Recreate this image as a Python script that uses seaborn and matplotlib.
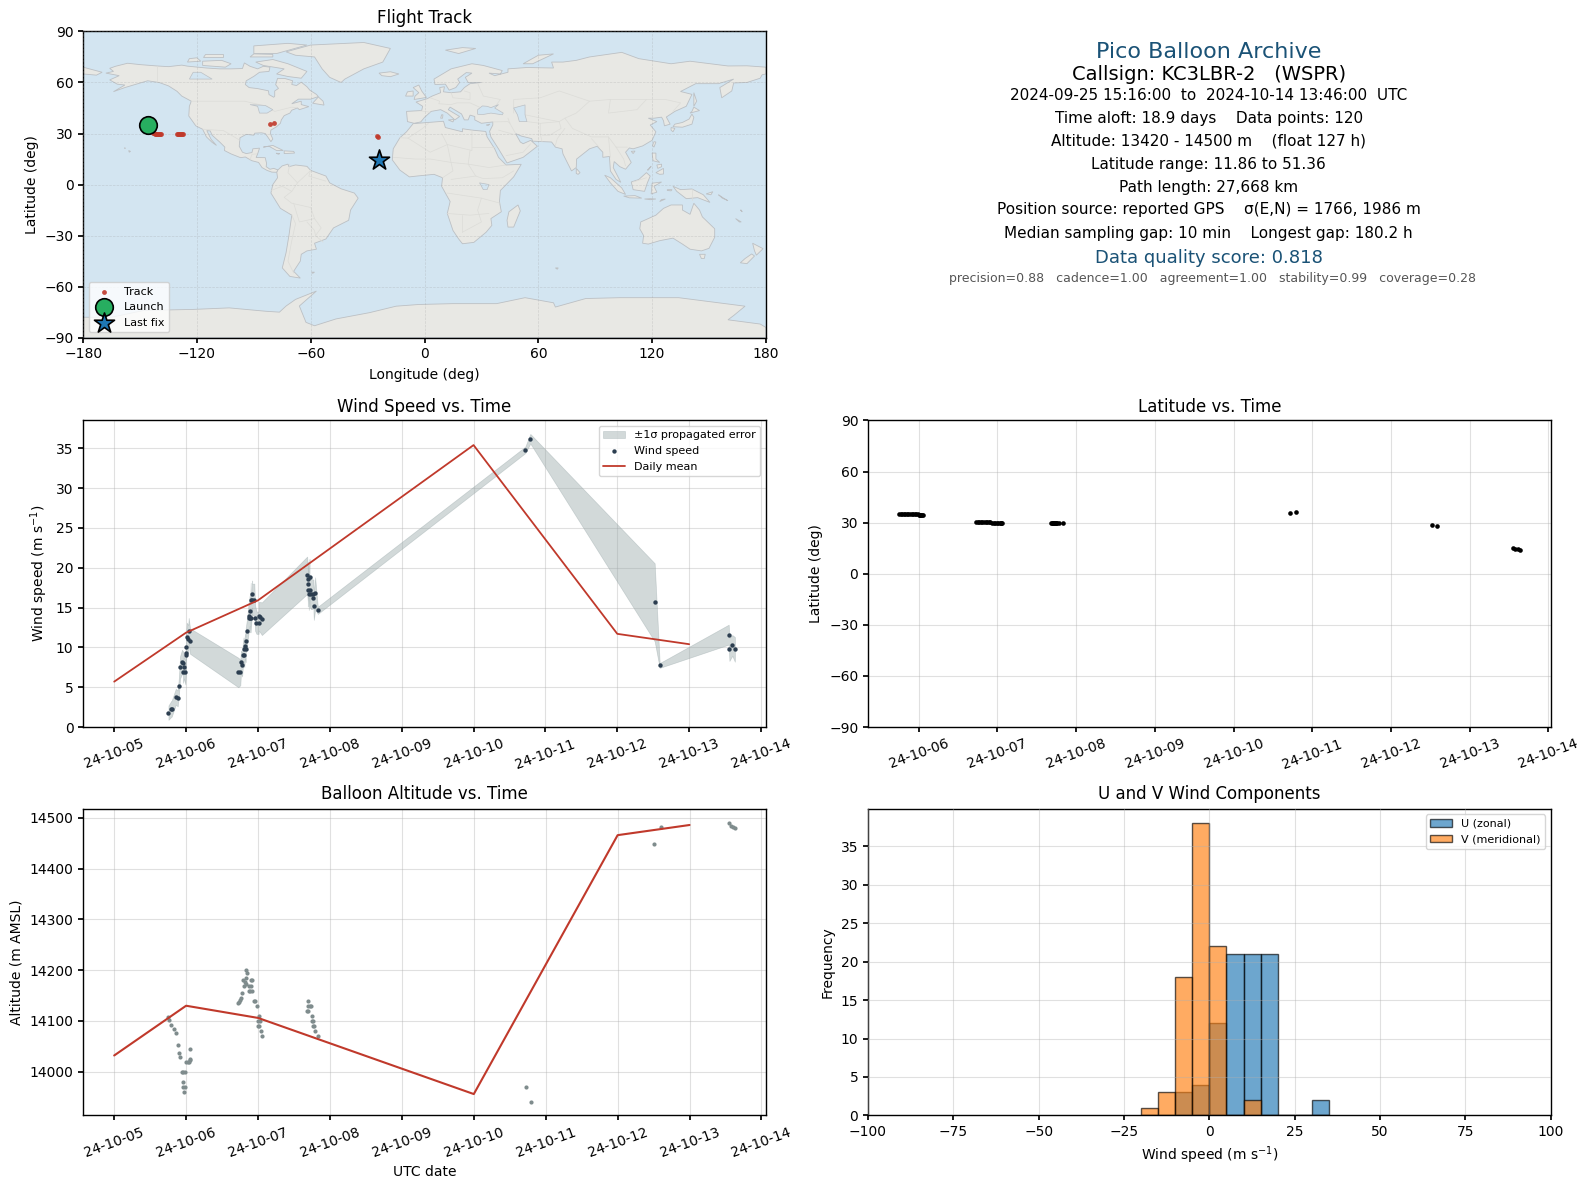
import numpy as np
import pandas as pd
import seaborn as sns
import matplotlib.pyplot as plt
import matplotlib.dates as mdates

# layout was measured on a 1567 px wide view of the original
VIEW_W, VIEW_H = 1567.0, 1172.6

OCEAN = '#d3e5f1'
LAND = '#e8e8e4'
COAST = '#bcc0c4'
BORDER = '#dcdcd8'
RED = '#c0392b'
NAVY = '#2c3e50'
GREY = '#7f8c8d'
BAND = '#95a5a6'
TITLE_BLUE = '#1a5276'

base_date = pd.Timestamp('2024-10-05')

# days after base_date, speed (m/s), sigma (m/s)
wind_days = [0.755, 0.796, 0.80, 0.857, 0.884, 0.90, 0.917, 0.944, 0.958, 0.958, 0.972, 0.99, 1.0, 1.0, 1.0,
             1.01, 1.03, 1.037, 1.055,
             1.727, 1.755, 1.764, 1.78, 1.79, 1.80, 1.81, 1.82, 1.83, 1.83, 1.85, 1.87, 1.875, 1.885, 1.89,
             1.90, 1.90, 1.92, 1.92, 1.95, 1.96, 1.98, 2.01, 2.01, 2.03, 2.055,
             2.685, 2.694, 2.694, 2.70, 2.708, 2.718, 2.718, 2.74, 2.773, 2.773, 2.778, 2.796, 2.833,
             5.72, 5.79, 7.52, 7.59, 8.55, 8.56, 8.60, 8.636]
wind_speed = [1.8, 2.3, 2.3, 3.8, 3.6, 5.1, 7.5, 8.2, 8.0, 6.85, 7.5, 6.85, 9.0, 9.3, 10.0,
              11.3, 11.0, 12.1, 10.8,
              6.85, 6.85, 8.2, 7.85, 9.0, 9.75, 9.0, 10.2, 9.75, 10.8, 12.0, 13.7, 14.0, 14.6, 13.7,
              15.9, 13.7, 16.7, 16.0, 16.0, 13.7, 13.1, 13.1, 13.9, 13.8, 13.6,
              19.05, 18.0, 17.15, 18.55, 16.7, 18.9, 17.15, 16.7, 16.7, 16.15, 15.15, 16.8, 14.65,
              34.8, 36.2, 15.66, 7.73, 11.6, 9.75, 10.25, 9.75]
wind_sigma = [0.9, 1.0, 1.0, 1.0, 1.0, 1.1, 1.4, 1.5, 1.5, 1.3, 1.4, 1.5, 1.7, 1.7, 1.7,
              1.8, 1.8, 1.6, 1.6,
              1.85, 1.6, 1.4, 1.5, 1.5, 1.5, 1.5, 1.6, 1.6, 1.6, 1.7, 1.8, 1.8, 1.9, 1.8,
              2.2, 1.8, 1.7, 2.0, 2.0, 1.6, 1.4, 1.4, 1.8, 1.9, 2.05,
              2.35, 2.2, 2.0, 2.2, 2.0, 2.2, 2.0, 1.9, 1.8, 1.8, 1.7, 2.0, 0.45,
              0.4, 0.6, 4.9, 0.3, 1.25, 1.45, 1.3, 1.55]

mean_days = [0, 1, 2, 5, 7, 8]
mean_wind = [5.7, 11.85, 15.9, 35.4, 11.7, 10.4]
mean_alt = [14032, 14130, 14106, 13956, 14466, 14486]

alt_days = [0.755, 0.763, 0.796, 0.833, 0.861, 0.889, 0.903, 0.917, 0.944, 0.958, 0.958, 0.963, 0.972, 0.986, 0.986,
            1.0, 1.03, 1.04, 1.05, 1.055, 1.06,
            1.722, 1.736, 1.755, 1.764, 1.778, 1.796, 1.80, 1.815, 1.833, 1.833, 1.833, 1.847, 1.875, 1.88, 1.89,
            1.898, 1.903, 1.91, 1.921, 1.94, 1.963, 1.986, 2.0, 2.0, 2.014, 2.02, 2.023, 2.04, 2.055,
            2.68, 2.694, 2.694, 2.70, 2.72, 2.736, 2.75, 2.755, 2.76, 2.76, 2.78, 2.796, 2.833,
            5.72, 5.79, 7.51, 7.60, 8.55, 8.57, 8.60, 8.63]
altitude = [14107, 14102, 14092, 14084, 14076, 14052, 14037, 14029, 14000, 13980, 13970, 14000, 13960, 14000, 13970,
            14019, 14019, 14019, 14023, 14045, 14025,
            14135, 14138, 14141, 14145, 14155, 14180, 14169, 14176, 14172, 14184, 14200, 14194, 14169, 14159, 14159,
            14180, 14169, 14159, 14180, 14139, 14139, 14129, 14100, 14090, 14110, 14090, 14100, 14080, 14070,
            14119, 14139, 14129, 14119, 14129, 14129, 14110, 14100, 14100, 14090, 14090, 14080, 14070,
            13970, 13940, 14449, 14482, 14490, 14485, 14483, 14480]

lat_days = [0.75, 0.77, 0.79, 0.81, 0.83, 0.85, 0.87, 0.89, 0.91, 0.93, 0.95, 0.97, 0.99, 1.0, 1.01, 1.02, 1.03, 1.04, 1.05,
            1.73, 1.75, 1.77, 1.79, 1.81, 1.83, 1.85, 1.87, 1.89, 1.91, 1.93, 1.95, 1.97, 1.99, 2.01, 2.03, 2.04, 2.05, 2.06,
            2.68, 2.69, 2.70, 2.71, 2.72, 2.73, 2.74, 2.75, 2.76, 2.78, 2.833,
            5.72, 5.79, 7.52, 7.59, 8.55, 8.58, 8.61, 8.636]
latitude = [34.9, 34.9, 34.9, 34.9, 34.9, 34.9, 34.9, 34.9, 34.9, 34.9, 34.9, 34.8, 34.8, 34.4, 34.4, 34.3, 34.3, 34.2, 34.2,
            30.1, 30.1, 30.1, 30.1, 30.1, 30.1, 30.1, 30.1, 30.1, 30.1, 30.0, 30.0, 30.0, 30.0, 29.8, 29.7, 29.6, 29.5, 29.5,
            29.5, 29.5, 29.5, 29.5, 29.5, 29.5, 29.5, 29.5, 29.5, 29.5, 29.6,
            35.5, 36.0, 28.6, 27.9, 14.9, 14.6, 14.4, 14.2]

track_lon = [-145.8, -145.0, -143.0, -142.5, -142.0, -141.5, -141.0, -140.5, -140.0, -139.5, -139.0,
             -130.5, -130.0, -129.5, -129.0, -128.5, -128.0, -127.5, -81.4, -79.5, -25.0, -24.7, -24.2, -24.0]
track_lat = [34.8, 34.2, 30.1, 30.1, 30.0, 30.0, 30.0, 29.9, 29.9, 29.8, 29.8,
             29.8, 29.8, 29.8, 29.8, 29.7, 29.7, 29.7, 35.5, 36.0, 28.3, 27.9, 14.5, 14.2]
launch_lon, launch_lat = -145.8, 34.9
last_lon, last_lat = -24.2, 14.2

hist_edges = [-20, -15, -10, -5, 0, 5, 10, 15, 20, 25, 30, 35]
u_counts = [0, 0, 3, 4, 12, 21, 21, 21, 0, 0, 2]
v_counts = [1, 3, 18, 38, 22, 0, 2, 0, 0, 0, 0]

info_lines = [
    ('Pico Balloon Archive', 1192, 51, 16, TITLE_BLUE),
    ('Callsign: KC3LBR-2   (WSPR)', 1192, 73, 14, 'black'),
    ('2024-09-25 15:16:00  to  2024-10-14 13:46:00  UTC', 1192, 94, 11, 'black'),
    ('Time aloft: 18.9 days    Data points: 120', 1192, 117, 11, 'black'),
    ('Altitude: 13420 - 14500 m    (float 127 h)', 1192, 139, 11, 'black'),
    ('Latitude range: 11.86 to 51.36', 1192, 162, 11, 'black'),
    ('Path length: 27,668 km', 1192, 185, 11, 'black'),
    ('Position source: reported GPS    σ(E,N) = 1766, 1986 m', 1192, 207, 11, 'black'),
    ('Median sampling gap: 10 min    Longest gap: 180.2 h', 1192, 230, 11, 'black'),
    ('Data quality score: 0.818', 1192, 254, 13, TITLE_BLUE),
    ('precision=0.88   cadence=1.00   agreement=1.00   stability=0.99   coverage=0.28', 1196, 275, 9, '#555555'),
]

# rough coastlines, lon/lat
land_polys = [
    # north + central america
    [(-168, 65.5), (-164, 66.5), (-166, 68.3), (-163, 69.5), (-156.6, 71.3), (-150, 70.5), (-141, 69.7), (-135, 69.3),
     (-128, 70.2), (-125, 69.6), (-115, 68.5), (-108, 68), (-102, 68), (-96, 68.2), (-95, 71.5), (-92, 69.5), (-88, 68),
     (-85, 69.5), (-81.5, 69), (-82, 66.5), (-87, 66), (-90, 63.6), (-94, 61), (-94.5, 58.8), (-92.5, 57), (-88, 56.4),
     (-82.3, 55.1), (-82, 52.9), (-79.5, 51.3), (-79, 52), (-79, 55), (-77, 56.5), (-78.5, 58.7), (-77.5, 62.4),
     (-73.5, 62.3), (-69.5, 61), (-70, 58.8), (-67.5, 58.2), (-65, 60.2), (-62, 57.5), (-60.5, 55.5), (-57, 53),
     (-56, 51.7), (-60, 50.2), (-66.5, 50.2), (-70, 47.5), (-65, 49), (-65, 47), (-61, 45.8), (-66, 44), (-67, 45),
     (-70, 43.7), (-71, 42), (-74, 40.5), (-75.5, 38), (-76, 36), (-78, 34), (-81, 32), (-81.3, 30), (-80, 26.8),
     (-81, 25.2), (-82.7, 28), (-84, 30), (-86, 30.4), (-89.5, 30.2), (-90, 29), (-94, 29.5), (-97.3, 27.5),
     (-97.7, 22.5), (-96, 19), (-94, 18.2), (-91, 18.8), (-90.5, 21), (-87, 21.4), (-88, 18), (-88.8, 15.9), (-84, 15.8),
     (-83.3, 12.5), (-83.5, 10.5), (-81.5, 9), (-79.5, 9.5), (-77.3, 8.6), (-77.9, 7.2), (-80.5, 7.3), (-83, 8.3),
     (-85.7, 10), (-87.5, 13), (-91, 14), (-94.5, 16.2), (-97, 15.8), (-102, 18), (-105.5, 20), (-105.3, 22), (-108, 25),
     (-112, 29), (-113, 31.5), (-114.8, 31.7), (-112.5, 26.5), (-109.7, 23), (-112, 24.8), (-115, 28), (-117, 32.5),
     (-120.6, 34.5), (-122.5, 37.5), (-124.3, 40.3), (-124, 46), (-123, 49), (-128, 52), (-130.5, 54.8), (-135, 58),
     (-140, 60), (-146, 61), (-152, 59), (-158, 57), (-164, 54.6), (-158, 58.5), (-162, 59), (-166, 61.5), (-161, 64)],
    # south america
    [(-77.3, 8.6), (-75, 11), (-72, 12), (-71.5, 10.5), (-68, 11.5), (-62, 10.7), (-60, 8.3), (-52, 5), (-50, 1),
     (-44, -2.5), (-37, -5), (-35, -8), (-39, -15), (-40, -21), (-48, -25.5), (-52, -32), (-58, -34.5), (-57, -38),
     (-62, -39), (-65, -41), (-65.5, -45), (-69, -51), (-65.5, -55), (-71, -54), (-75, -49), (-73, -40), (-71.5, -30),
     (-70, -18), (-76, -14), (-81, -5), (-80, 0), (-77.5, 4), (-77.9, 7.2)],
    # africa
    [(-6, 35.8), (10, 37.2), (11, 33.5), (20, 31), (20, 32.8), (25, 32), (32.3, 31.2), (33, 28), (37, 21), (39, 16),
     (43, 11.5), (51, 11.9), (47, 4.5), (40, -3.5), (39.5, -10), (40.5, -16), (35, -20), (35.5, -24), (32.5, -28),
     (26, -34), (20, -34.8), (18, -32), (15, -27), (12, -17), (13.5, -10), (9, -1), (9.5, 4), (5, 6), (-4, 5), (-8, 4.5),
     (-13, 8.5), (-17, 14.5), (-16.5, 21), (-13, 27.5), (-9.5, 31)],
    # eurasia
    [(-9, 37), (-9.5, 43), (-1.5, 43.5), (-1, 46), (-4.5, 48.5), (1.5, 50.5), (4, 52), (8.5, 54), (8, 57), (10.5, 57.5),
     (10, 54.5), (14, 54), (19, 54.5), (21, 57), (24, 59.3), (30, 60), (23, 60), (21.5, 63), (25, 65.5), (22, 65.8),
     (17.5, 62), (18.5, 60), (16.5, 57), (13, 55.5), (11, 59), (5.5, 58.8), (5, 62), (14, 68), (25, 71), (31, 70),
     (41, 67), (40, 65), (34, 65.5), (37, 64), (44, 66), (44, 68), (54, 68.8), (68, 68.5), (67, 72), (73, 72), (80, 73),
     (87, 75), (104, 77.7), (113, 74), (130, 71), (140, 72.5), (160, 69.7), (170, 69.8), (180, 69), (180, 65),
     (178, 64.5), (177, 62.5), (170, 60), (163, 59.7), (162, 55), (156.7, 51), (155.7, 57), (163, 62), (155, 59.3),
     (143, 59.3), (135, 54.7), (141, 53), (138, 46), (132, 43), (127.5, 39.7), (129.5, 35.5), (126.5, 34.5),
     (126, 37.5), (125, 39.6), (121, 39), (118, 39), (122.5, 37), (119, 35), (122, 31), (120, 26), (115, 22.7),
     (110, 21), (108, 21.5), (106, 19), (109, 13), (106, 9), (103, 10.5), (100, 13.5), (99.5, 10), (103.5, 1.3),
     (101, 3), (98, 8), (97.5, 16.5), (94, 16), (94, 19), (91, 22.5), (87, 21), (80.2, 15), (80, 10), (77.5, 8),
     (73, 18), (72.5, 21), (69, 22), (67, 25), (57, 25.5), (56.5, 27), (51, 28.5), (48, 30), (50.5, 25), (52, 24),
     (56, 26), (59.5, 22.5), (52, 16), (43.5, 12.7), (39, 21), (35, 28), (34.3, 31.3), (36, 35), (36, 36.8), (30, 36),
     (26.5, 38), (26.5, 40), (24, 40.8), (23, 38), (21, 38), (19.5, 41.5), (13.5, 45.5), (12.5, 44), (18.5, 40),
     (16, 38), (12, 42), (8.5, 44), (3.5, 43), (0, 39.5), (-2, 36.8), (-5.5, 36)],
    # chukotka past the date line
    [(-180, 69), (-175, 67.5), (-170, 66), (-173, 64.3), (-180, 65)],
    # greenland and the arctic islands
    [(-73, 78), (-60, 82), (-32, 83.5), (-18, 80), (-22, 72), (-32, 68), (-42, 62), (-44, 60), (-50, 63), (-54, 68),
     (-58, 75), (-68, 76)],
    [(-80, 73.5), (-72, 71), (-62, 66.5), (-65, 62.5), (-72, 63.5), (-78, 65), (-74, 68), (-85, 70), (-89, 72)],
    [(-117, 70), (-105, 69), (-102, 71), (-107, 73), (-117, 72.5)],
    [(-125, 72), (-118, 72.5), (-120, 74.5), (-124, 74)],
    [(-90, 77), (-78, 77), (-62, 82), (-72, 83), (-90, 81.5)],
    [(-92, 75), (-80, 75), (-80, 76.5), (-90, 76.8)],
    [(-117, 75), (-106, 75), (-106, 76.5), (-116, 76.5)],
    [(-59, 47.8), (-53, 46.7), (-53.5, 49), (-56, 51.5)],
    # caribbean, hawaii
    [(-85, 22), (-80, 23), (-74.5, 20), (-78, 20), (-82, 22.5)],
    [(-74, 19.8), (-69, 19.5), (-68.5, 18.5), (-74, 18.2)],
    [(-78.3, 18.4), (-76.3, 18.2), (-77, 17.8)],
    [(-156, 20), (-155, 19.5), (-155.7, 19)],
    [(-158.2, 21.6), (-157.7, 21.4), (-158, 21.2)],
    # europe / north atlantic
    [(-5.5, 50), (1, 51.2), (-1.5, 55), (-3, 58.5), (-6, 57), (-3, 54), (-5, 52)],
    [(-10, 52), (-6, 52), (-6, 55), (-9, 54.5)],
    [(-24, 65.5), (-18, 66.3), (-13.5, 65), (-18, 63.4), (-22.5, 64)],
    [(11, 79), (20, 80.5), (27, 80), (18, 77)],
    [(52, 71), (57, 71), (68, 76.8), (60, 76)],
    [(9, 41), (9.7, 41), (9.5, 39), (8.5, 39)],
    [(12.5, 38), (15.5, 38.2), (15, 36.8)],
    [(32.5, 35), (34.5, 35.5), (33.5, 34.7)],
    # east asia
    [(142, 54), (143.5, 49), (142, 46), (142, 50)],
    [(131, 34), (136, 33.7), (141, 35.5), (142, 39.5), (141, 41.4), (139.5, 38.5), (136, 36.5), (132, 35.5)],
    [(140, 42), (145, 43.5), (142, 45.5), (141, 43)],
    [(130, 33.5), (132, 33), (131, 31), (130, 32)],
    [(120.2, 23), (121, 22), (122, 25), (121, 25.2)],
    [(109, 19.5), (111, 19.7), (110, 18.2)],
    [(120, 18.5), (122, 18.5), (122, 15), (124, 13), (120.5, 14)],
    [(122, 7), (126, 9.5), (126, 6.2), (124, 6)],
    [(122.5, 11.5), (125, 12), (125, 10.5), (123, 9.5)],
    [(117.5, 8.5), (119.5, 10.8), (119, 10), (118, 8.5)],
    # indonesia, new guinea
    [(109, 1.5), (113, 3), (117, 7), (119, 5), (117.5, 1), (116, -4), (110, -3)],
    [(95, 5.5), (98, 4), (104, -2), (106, -5.8), (102, -4), (98, 1)],
    [(105, -6.8), (111, -6.5), (114.5, -8), (108, -7.8)],
    [(119.5, -5.5), (120, 0.8), (125, 1.5), (121, -1), (122.5, -4.5)],
    [(124, -10), (127, -8.5), (125, -8.8)],
    [(116, -8.5), (119, -8.3), (122, -8.5), (119, -8.9)],
    [(128, -3), (130.5, -3), (130, -3.7), (128, -3.5)],
    [(131, -1), (135, -3), (141, -2.6), (147, -6), (150.5, -10.5), (144, -7.7), (138, -8.3), (133, -4)],
    [(148.5, -5.5), (152, -4.2), (151, -6)],
    [(155, -6), (157, -7.5), (160, -9.5), (157, -8)],
    [(166.5, -15), (167.5, -16), (167, -15)],
    [(164, -20), (167, -22), (166, -22)],
    [(80, 9.5), (82, 7), (81, 6), (80, 6.5)],
    [(49.3, -12), (50.5, -15.5), (47, -25), (44, -25), (43.5, -21), (44.5, -16)],
    # oceania
    [(114, -22), (122, -18), (126, -14), (130, -12), (136, -12), (136, -15), (140, -17.5), (142, -11), (145, -15),
     (146.5, -19), (153, -26), (153, -31), (150, -37.5), (146, -39), (140, -38), (136, -35), (131, -31.5), (124, -33),
     (118, -35), (115, -34.5), (115.5, -30), (113.5, -26)],
    [(145, -41), (148, -41), (147.5, -43.5), (146, -43.5)],
    [(173, -34.5), (178.5, -37.7), (175, -41.5), (174, -39)],
    [(172.5, -40.8), (174, -42), (170, -46.5), (166.5, -46), (169, -43.5)],
    [(69, -49), (70.5, -49), (70, -49.8)],
    [(-59.5, -51.5), (-58, -51.5), (-59, -52.2)],
    # antarctica
    [(-180, -78), (-165, -78), (-148, -74), (-122, -73.4), (-103, -72.5), (-83.5, -74.5), (-76.5, -75), (-73, -71.4),
     (-68, -67.5), (-57, -62.6), (-66, -71.4), (-62.5, -81), (-58, -83), (-46.7, -79), (-29, -75.3), (-15, -71.5),
     (-3, -70.5), (15, -70), (38, -70), (53, -66.5), (68, -69.5), (69, -72), (85, -67), (103, -66.5), (134, -66.5),
     (169, -71.5), (163, -77), (160, -79.5), (177, -82), (180, -84), (180, -90), (-180, -90)],
]
water_polys = [
    [(47, 45), (53, 46.8), (53, 41), (54, 37), (50, 37), (49, 41)],
    [(28, 41.3), (28, 44), (30.5, 46.2), (33, 46), (35, 45.2), (39, 47), (37, 45), (41.5, 42), (41, 41), (35, 42), (31, 41.2)],
    [(-92, 47), (-84, 46.5), (-80, 44), (-83, 42), (-87, 42), (-88, 46)],
    [(-124, 62), (-112, 62), (-118, 66), (-122, 66)],
    [(29, 1), (34, 0), (33, -3), (31, -3)],
]
border_lines = [
    [(-141, 69.7), (-141, 60)], [(-123, 49), (-95, 49), (-83, 46), (-79, 43), (-70, 45.5), (-67, 45)],
    [(-117, 32.5), (-106, 31.7), (-97.3, 26)], [(-92, 14.5), (-91, 17.8), (-88.5, 18)],
    [(-71, 12), (-72, 7), (-67, 1), (-70, -4), (-74, -7.5), (-70, -11), (-60, -13.5), (-58, -20), (-54.5, -25.5),
     (-57.5, -30), (-53.5, -33.8)], [(-70, -18), (-68, -23), (-70, -33), (-72, -45), (-69, -52)],
    [(-60, 8.5), (-61, 5), (-52, 2)], [(-81, -3.5), (-75, -1), (-70, -4)], [(-69, -11), (-66, -22), (-58, -20)],
    [(-62, -22), (-58, -27), (-57.5, -30)], [(-60, 8.3), (-67, 1)],
    [(-13, 27.5), (-8.7, 27.3), (-1, 33), (2, 36)], [(-8.7, 27.3), (3, 19), (12, 23.5), (25, 20), (25, 32)],
    [(9, 30), (12, 23.5), (14, 13), (15, 8), (9.5, 4)], [(25, 22), (37, 22)],
    [(-16.5, 16), (-5, 15), (3, 15), (14, 13), (23, 12), (34, 10), (43, 11.5)],
    [(24, 20), (23, 12), (27, 5), (31, 3.5), (41, 4), (47, 8)], [(14, 3), (27, 5)], [(12, -5), (30, -8), (40, -11)],
    [(12, -17), (24, -18), (34, -17)], [(20, -28), (20, -18)], [(30, -8), (28, -15), (30, -22), (20, -28)],
    [(-2, 43.3), (3, 42.5)], [(3, 51), (8, 49), (7.5, 47.5), (14, 47), (17, 48), (24, 48), (29, 45.5)],
    [(14, 54), (15, 51), (24, 50), (24, 54), (21, 55)], [(28, 59.5), (31, 52), (40, 50), (38, 47)],
    [(47, 42), (47, 50), (61, 51), (71, 55), (87, 49), (98, 50), (117, 50), (127, 50), (135, 48), (131, 43)],
    [(87, 49), (80, 42), (74, 39), (78, 33), (88, 28), (97, 28), (101, 22), (107, 22)],
    [(98, 50), (97, 42), (112, 44), (117, 50)],
    [(54, 37), (61, 36), (71, 37), (74, 39)], [(53, 41), (66, 38), (71, 37)], [(61, 36), (61, 30), (62, 25)],
    [(71, 37), (72, 33), (66, 29), (62, 29)], [(74, 33), (70, 27), (69, 23)], [(88, 27), (92, 22)],
    [(97, 28), (98, 16)], [(101, 22), (105, 15), (106, 11)], [(44, 39), (45, 36), (48, 30)],
    [(36, 36.8), (44, 37), (45, 36)],
    [(39, 32), (47, 29.5)], [(43, 17), (52, 19), (56, 24)], [(141, -2.6), (141, -9)], [(110, 1.5), (117, 4)],
]

sns.set_theme(style='ticks', rc={
    'font.family': 'DejaVu Sans', 'font.size': 10, 'axes.titlesize': 12, 'axes.labelsize': 10,
    'xtick.labelsize': 10, 'ytick.labelsize': 10, 'legend.fontsize': 8,
    'text.color': 'black', 'axes.labelcolor': 'black', 'axes.edgecolor': 'black',
    'xtick.color': 'black', 'ytick.color': 'black', 'axes.linewidth': 1.0,
    'xtick.major.size': 3.5, 'ytick.major.size': 3.5,
})


def place(fig, left, top, right, bottom):
    return fig.add_axes([left / VIEW_W, 1 - bottom / VIEW_H, (right - left) / VIEW_W, (bottom - top) / VIEW_H])


def to_dates(days):
    return base_date + pd.to_timedelta(days, unit='D')


def soft_grid(ax):
    ax.grid(True, color='#b0b0b0', alpha=0.38, lw=0.8)


def time_axis(ax):
    ax.xaxis.set_major_locator(mdates.DayLocator())
    ax.xaxis.set_major_formatter(mdates.DateFormatter('%y-%m-%d'))
    ax.tick_params(axis='x', rotation=20)
    soft_grid(ax)
    ax.set_axisbelow(True)


def plot_map(ax):
    ax.set_facecolor(OCEAN)
    for poly in land_polys:
        xs, ys = zip(*poly)
        ax.fill(xs, ys, facecolor=LAND, edgecolor=COAST, lw=0.6, zorder=1)
    for line in border_lines:
        xs, ys = zip(*line)
        ax.plot(xs, ys, color=BORDER, lw=0.5, zorder=1.5)
    for poly in water_polys:
        xs, ys = zip(*poly)
        ax.fill(xs, ys, facecolor=OCEAN, edgecolor=COAST, lw=0.5, zorder=2)
    ax.grid(True, color='#999999', alpha=0.3, lw=0.5, ls='--', zorder=2.2)
    ax.set_axisbelow(False)
    sns.scatterplot(x=track_lon, y=track_lat, ax=ax, color=RED, s=12, linewidth=0, alpha=0.9, label='Track', zorder=3)
    sns.scatterplot(x=[launch_lon], y=[launch_lat], ax=ax, color='#27ae60', s=160, marker='o',
                    edgecolor='black', linewidth=1.2, label='Launch', zorder=4)
    sns.scatterplot(x=[last_lon], y=[last_lat], ax=ax, color='#1f77b4', s=230, marker='*',
                    edgecolor='black', linewidth=1.2, label='Last fix', zorder=4)
    ax.set_xlim(-180, 180)
    ax.set_ylim(-90, 90)
    ax.set_xticks(np.arange(-180, 181, 60))
    ax.set_yticks(np.arange(-90, 91, 30))
    ax.set_xlabel('Longitude (deg)', labelpad=5)
    ax.set_ylabel('Latitude (deg)')
    ax.set_title('Flight Track', pad=6)
    ax.legend(loc='lower left', fontsize=8, framealpha=0.8)


def plot_wind(ax):
    df = pd.DataFrame({'time': to_dates(wind_days), 'speed': wind_speed, 'sigma': wind_sigma})
    ax.fill_between(df.time, df.speed - df.sigma, df.speed + df.sigma, color=BAND, alpha=0.42, lw=0.5,
                    label='±1σ propagated error')
    sns.scatterplot(data=df, x='time', y='speed', ax=ax, color=NAVY, s=10, linewidth=0, label='Wind speed', zorder=3)
    sns.lineplot(x=to_dates(mean_days), y=mean_wind, ax=ax, color=RED, lw=1.3, label='Daily mean', errorbar=None,
                 estimator=None, zorder=4)
    time_axis(ax)
    ax.set_ylim(0, 38.5)
    ax.set_xlabel('')
    ax.set_ylabel('Wind speed (m s$^{-1}$)')
    ax.set_title('Wind Speed vs. Time', pad=6)
    ax.legend(loc='upper right', fontsize=8, framealpha=0.8)


def plot_latitude(ax):
    sns.scatterplot(x=to_dates(lat_days), y=latitude, ax=ax, color='black', s=11, linewidth=0)
    time_axis(ax)
    ax.set_ylim(-90, 90)
    ax.set_yticks(np.arange(-90, 91, 30))
    ax.set_xlabel('')
    ax.set_ylabel('Latitude (deg)')
    ax.set_title('Latitude vs. Time', pad=6)


def plot_altitude(ax):
    sns.scatterplot(x=to_dates(alt_days), y=altitude, ax=ax, color=GREY, s=9, linewidth=0)
    sns.lineplot(x=to_dates(mean_days), y=mean_alt, ax=ax, color=RED, lw=1.5, errorbar=None, estimator=None)
    time_axis(ax)
    ax.set_ylim(13914, 14518)
    ax.set_xlabel('UTC date')
    ax.set_ylabel('Altitude (m AMSL)')
    ax.set_title('Balloon Altitude vs. Time', pad=7)


def plot_hist(ax):
    centers = (np.array(hist_edges[:-1]) + np.array(hist_edges[1:])) / 2
    sns.histplot(x=centers, weights=u_counts, bins=hist_edges, ax=ax, color='#1f77b4', alpha=0.65,
                 edgecolor=(0, 0, 0, 0.65), linewidth=1, label='U (zonal)')
    sns.histplot(x=centers, weights=v_counts, bins=hist_edges, ax=ax, color='#ff7f0e', alpha=0.65,
                 edgecolor=(0, 0, 0, 0.65), linewidth=1, label='V (meridional)')
    ax.set_xlim(-100, 100)
    ax.set_ylim(0, 39.9)
    soft_grid(ax)
    ax.set_axisbelow(False)
    ax.set_xlabel('Wind speed (m s$^{-1}$)')
    ax.set_ylabel('Frequency')
    ax.set_title('U and V Wind Components', pad=7)
    ax.legend(loc='upper right', fontsize=8, framealpha=0.8)


def main():
    fig = plt.figure(figsize=(15.89, 11.89), dpi=100)
    plot_map(place(fig, 82, 31, 755.3, 333))
    plot_wind(place(fig, 82, 414.6, 755.3, 717))
    plot_latitude(place(fig, 856, 414.6, 1529.3, 717))
    plot_altitude(place(fig, 82, 797.6, 755.3, 1100))
    plot_hist(place(fig, 856, 797.6, 1529.3, 1100))
    for text, x, y, size, color in info_lines:
        fig.text(x / VIEW_W, 1 - y / VIEW_H, text, ha='center', va='center', fontsize=size, color=color)
    fig.savefig('out.png', dpi=100)


if __name__ == '__main__':
    main()
